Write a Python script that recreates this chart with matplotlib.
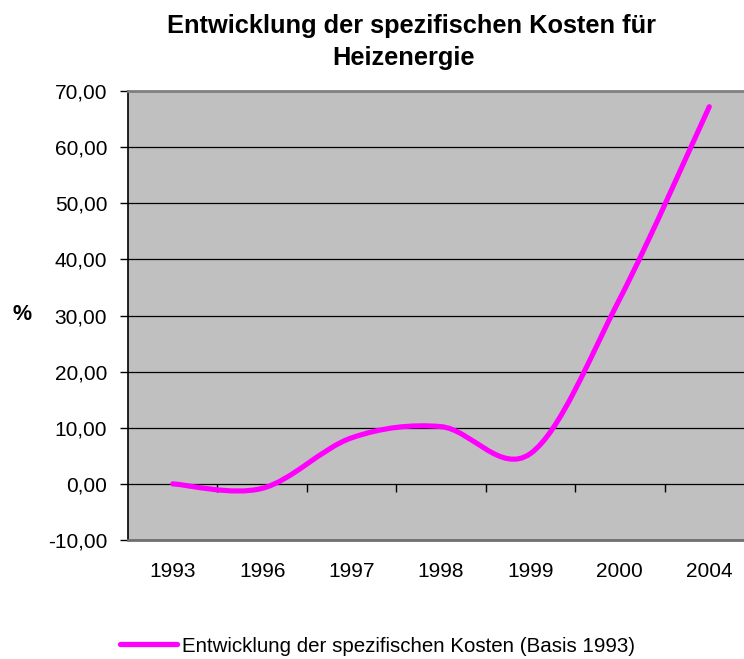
import matplotlib
matplotlib.use('Agg')
import matplotlib.pyplot as plt
import numpy as np
from matplotlib.path import Path
from matplotlib.patches import PathPatch
from matplotlib.lines import Line2D
from matplotlib.ticker import FuncFormatter

years = ['1993', '1996', '1997', '1998', '1999', '2000', '2004']
kosten = [0.0, -0.8, 8.2, 10.2, 5.4, 33.0, 67.2]
y_ticks = [-10, 0, 10, 20, 30, 40, 50, 60, 70]

title_lines = ['Entwicklung der spezifischen Kosten für', 'Heizenergie']
series_label = 'Entwicklung der spezifischen Kosten (Basis 1993)'
magenta = '#FF00FF'

plt.rcParams['font.family'] = ['Liberation Sans', 'DejaVu Sans']


def smooth_path(xs, ys):
    # Excel-style smoothed line: Bezier segments through every data point
    pts = np.column_stack([xs, ys]).astype(float)
    n = len(pts)
    verts = [pts[0]]
    codes = [Path.MOVETO]
    for i in range(n - 1):
        p0 = pts[max(i - 1, 0)]
        p1 = pts[i]
        p2 = pts[i + 1]
        p3 = pts[min(i + 2, n - 1)]
        verts += [p1 + (p2 - p0) / 6, p2 - (p3 - p1) / 6, p2]
        codes += [Path.CURVE4] * 3
    return Path(verts, codes)


fig = plt.figure(figsize=(7.44, 6.59), dpi=100)
ax = fig.add_axes([128 / 744, 1 - 540 / 659, 626 / 744, 449 / 659])
ax.set_facecolor('#C0C0C0')

x = np.arange(len(years))
ax.add_patch(PathPatch(smooth_path(x, kosten), fill=False, edgecolor=magenta,
                       lw=3.7, capstyle='round', joinstyle='round', zorder=3))

ax.set_xlim(-0.5, len(years) - 0.5)
ax.set_ylim(-10, 70)
ax.set_yticks(y_ticks)
ax.yaxis.set_major_formatter(FuncFormatter(lambda v, p: f'{v:.2f}'.replace('.', ',')))
ax.yaxis.grid(True, color='black', lw=0.9)
ax.set_axisbelow(True)
ax.tick_params(axis='y', length=5.5, width=1, pad=9.5, labelsize=15)

ax.set_xticks(x)
ax.set_xticklabels(years)
ax.tick_params(axis='x', length=0, pad=16, labelsize=15)

# category tick marks hang from the zero line
sec = ax.secondary_xaxis(10 / 80)
sec.set_xticks(np.arange(0.5, len(years), 1))
sec.set_xticklabels([])
sec.tick_params(axis='x', length=5.5, width=1, direction='out', color='black')
sec.spines['bottom'].set_visible(False)

ax.spines['left'].set_color('black')
ax.spines['left'].set_linewidth(1.2)
ax.spines['top'].set_color('#808080')
ax.spines['top'].set_linewidth(2)
ax.spines['bottom'].set_color('#707070')
ax.spines['bottom'].set_linewidth(2)
ax.spines['right'].set_visible(False)

fig.text(412 / 744, 1 - 32.5 / 659, title_lines[0], ha='center', va='baseline',
         fontsize=18.3, fontweight='bold')
fig.text(404 / 744, 1 - 65 / 659, title_lines[1], ha='center', va='baseline',
         fontsize=18.3, fontweight='bold')
fig.text(22 / 744, 1 - 315 / 659, '%', ha='center', va='center',
         fontsize=15.5, fontweight='bold')

handle = Line2D([], [], color=magenta, lw=3.8, solid_capstyle='round')
fig.legend([handle], [series_label], loc='center left',
           bbox_to_anchor=(120 / 744, 1 - 646 / 659), frameon=False,
           fontsize=14.8, handlelength=2.75, handletextpad=0.25,
           borderpad=0, borderaxespad=0)

fig.savefig('out.png', dpi=100)
plt.close(fig)
